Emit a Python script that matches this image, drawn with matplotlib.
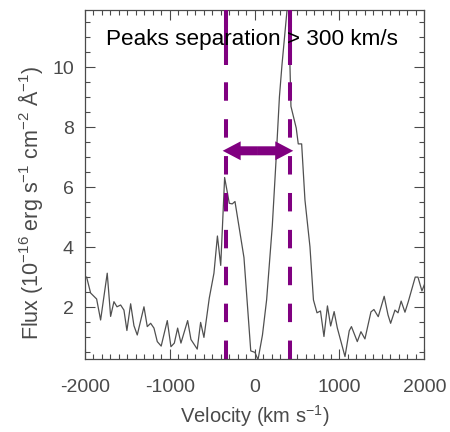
import matplotlib
matplotlib.use('Agg')
import matplotlib.pyplot as plt
from matplotlib.ticker import MultipleLocator
from matplotlib.patches import FancyArrow

# Spectrum (velocity in km/s, flux in 1e-16 erg s^-1 cm^-2 A^-1)
velocity = [-1981, -1934, -1863, -1816, -1738, -1698, -1659, -1623, -1580, -1541,
            -1506, -1462, -1423, -1384, -1305, -1266, -1226, -1187, -1148, -1102,
            -1030, -987, -947, -908, -869, -790, -751, -677, -637, -598,
            -535, -480, -439, -400, -354, -299, -264, -232, -126, -46,
            4, 39, 92, 141, 208, 251, 292, 322, 396, 416,
            428, 490, 514, 554, 593, 652, 693, 735, 776, 817,
            858, 896, 937, 974, 1065, 1115, 1141, 1210, 1253, 1300,
            1371, 1406, 1457, 1527, 1572, 1603, 1654, 1690, 1727, 1772,
            1811, 1893, 1925, 1972, 2000]
flux = [3.01, 2.48, 2.28, 1.58, 3.14, 1.70, 2.19, 2.02, 2.08, 1.91,
        1.23, 2.12, 1.39, 1.08, 2.02, 1.36, 1.47, 1.31, 0.86, 0.71,
        1.56, 0.69, 0.81, 1.31, 0.81, 1.56, 0.93, 0.61, 1.50, 1.00,
        2.31, 3.14, 4.38, 3.40, 6.33, 5.47, 5.45, 5.53, 3.66, 0.55,
        0.50, 0.25, 1.08, 2.25, 4.72, 6.85, 9.02, 10.08, 12.35, 10.08,
        8.70, 7.98, 7.45, 7.45, 5.58, 4.02, 2.25, 1.82, 1.88, 1.03,
        2.05, 1.38, 1.86, 1.32, 0.36, 1.22, 1.36, 0.86, 1.19, 0.95,
        1.85, 1.93, 1.69, 2.37, 1.75, 1.47, 1.91, 1.82, 2.21, 1.84,
        2.19, 3.01, 3.01, 2.55, 2.75]

peak_lines = [-342, 414]
arrow_left, arrow_right, arrow_y = -377, 455, 7.22
x_ticks = [-2000, -1000, 0, 1000, 2000]
y_ticks = [2, 4, 6, 8, 10]

plt.rcParams['font.family'] = ['Liberation Sans', 'DejaVu Sans']
plt.rcParams['mathtext.fontset'] = 'custom'
plt.rcParams['mathtext.rm'] = 'Liberation Sans'
plt.rcParams['mathtext.default'] = 'regular'
plt.rcParams['axes.unicode_minus'] = False

grey = '#4a4a4a'
purple = '#800080'

fig = plt.figure(figsize=(4.5, 4.32), dpi=100)
ax = fig.add_axes([0.1889, 0.1683, 0.754, 0.8097])
ax.plot(velocity, flux, color='#505050', lw=0.9, zorder=2)
ax.set_xlim(-2000, 2000)
ax.set_ylim(0.27, 11.93)

ax.set_xticks(x_ticks)
ax.set_yticks(y_ticks)
ax.xaxis.set_minor_locator(MultipleLocator(100))
ax.yaxis.set_minor_locator(MultipleLocator(0.5))
ax.tick_params(which='both', direction='in', top=True, right=True, color=grey, width=0.8)
ax.tick_params(which='major', length=7)
ax.tick_params(which='minor', length=3.5)
ax.tick_params(axis='x', which='major', labelsize=14, labelcolor=grey, pad=14)
ax.tick_params(axis='y', which='major', labelsize=14, labelcolor=grey, pad=8)
for s in ax.spines.values():
    s.set_color(grey)
    s.set_linewidth(0.9)

ax.set_xlabel('Velocity (km s$^{-1}$)', fontsize=14.5, color=grey, labelpad=5)
ax.set_ylabel('Flux (10$^{-16}$ erg s$^{-1}$ cm$^{-2}$ Å$^{-1}$)', fontsize=15.5,
              color=grey, va='center')
ax.yaxis.set_label_coords(-0.162, 0.448)

ymin, ymax = ax.get_ylim()
for xv in peak_lines:
    ax.plot([xv, xv], [ymin, ymax], color=purple, lw=2.9,
            linestyle=(0, (4.58, 4.58)), solid_capstyle='butt', zorder=3)
    ax.plot([xv, xv], [10.08, ymax], color=purple, lw=2.9,
            solid_capstyle='butt', zorder=3)

mid = 0.5 * (arrow_left + arrow_right)
for end in (arrow_left, arrow_right):
    ax.add_patch(FancyArrow(mid, arrow_y, end - mid, 0, width=0.3,
                            head_width=0.63, head_length=212,
                            length_includes_head=True, color=purple,
                            lw=0, zorder=4))

ax.text(0.493, 0.8985, 'Peaks separation > 300 km/s', transform=ax.transAxes,
        ha='center', va='baseline', fontsize=16.2, color='black', zorder=5)

fig.savefig('out.png', dpi=100)
